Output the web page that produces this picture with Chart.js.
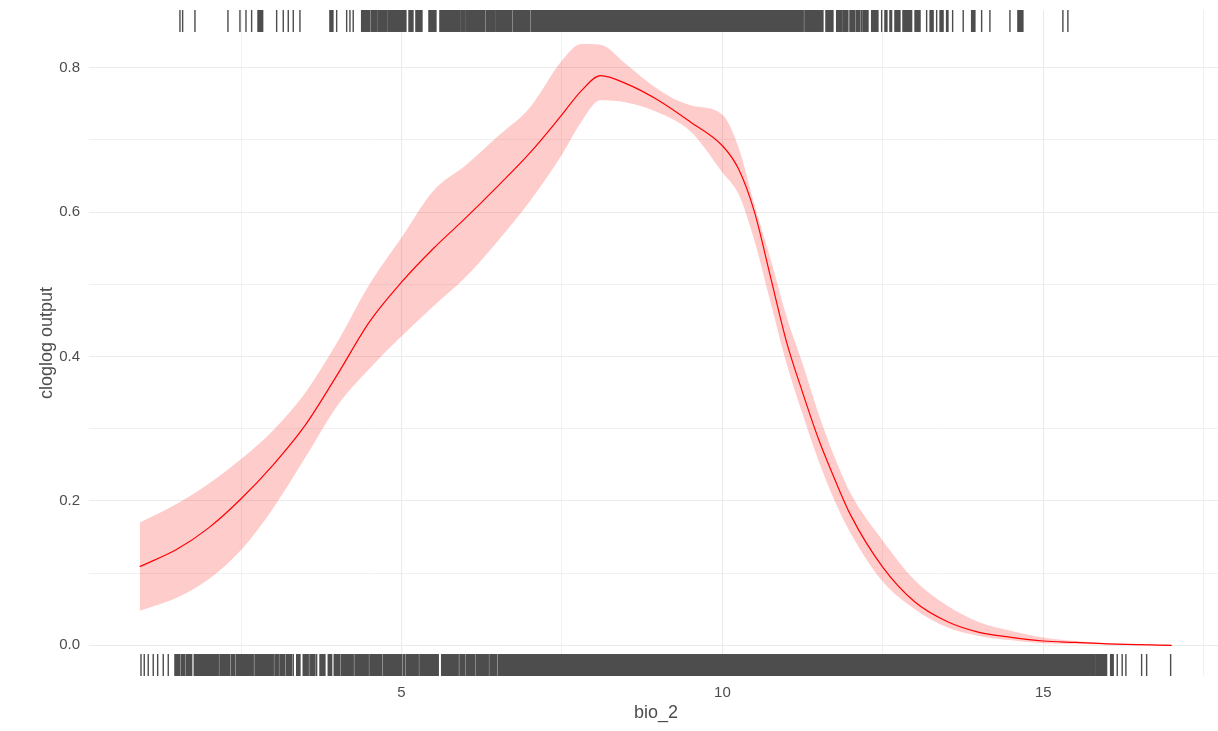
<!DOCTYPE html>
<html>
<head>
<meta charset="utf-8">
<script src="https://cdn.jsdelivr.net/npm/chart.js@4.4.1/dist/chart.umd.min.js"></script>
<style>
  html, body { margin: 0; padding: 0; background: #fff; overflow: hidden; }
  #wrap { width: 1230px; height: 731px; position: relative; }
</style>
</head>
<body>
<div id="wrap"><canvas id="respChart"></canvas></div>
<script>
// response curve of bio_2 (cloglog output)
const bioX = [0.92, 1.5, 2, 2.5, 3, 3.5, 4, 4.5, 5, 5.5, 6, 6.5, 7, 7.5, 7.8, 8.1, 8.5, 9, 9.5, 10,
  10.25, 10.5, 10.75, 11, 11.25, 11.5, 11.75, 12, 12.5, 13, 13.5, 14, 14.5, 15, 15.5, 16, 17];
const meanY = [0.109, 0.133, 0.163, 0.203, 0.25, 0.305, 0.375, 0.448, 0.503, 0.55, 0.592, 0.636, 0.682, 0.735, 0.768, 0.789, 0.778, 0.755, 0.725, 0.692,
  0.660, 0.60, 0.51, 0.42, 0.35, 0.285, 0.23, 0.18, 0.108, 0.06, 0.033, 0.018, 0.011, 0.006, 0.004, 0.002, 0.0];
const upperY = [0.170, 0.196, 0.224, 0.258, 0.298, 0.35, 0.42, 0.50, 0.565, 0.63, 0.665, 0.705, 0.745, 0.81, 0.833, 0.832, 0.805, 0.77, 0.748, 0.735,
  0.69, 0.61, 0.535, 0.455, 0.39, 0.32, 0.26, 0.21, 0.145, 0.09, 0.055, 0.032, 0.02, 0.011, 0.006, 0.003, 0.001];
const lowerY = [0.048, 0.066, 0.092, 0.132, 0.19, 0.26, 0.332, 0.383, 0.428, 0.47, 0.51, 0.56, 0.615, 0.68, 0.725, 0.755, 0.752, 0.738, 0.712, 0.655,
  0.625, 0.56, 0.475, 0.39, 0.32, 0.255, 0.2, 0.155, 0.088, 0.05, 0.025, 0.013, 0.007, 0.003, 0.002, 0.001, 0.0];

// rug: presence (top) and background (bottom) values; spans where ticks merge into a block
const topRug = [1.547, 1.589, 1.781, 2.295, 2.482, 2.576, 2.664, 3.054, 3.157, 3.235, 3.313, 3.417, 3.989,
  4.145, 4.196, 4.247, 12.169, 12.481, 13.182, 13.338, 13.587, 13.752, 14.039, 14.168, 14.480, 15.305, 15.383];
const topRugSpans = [[2.763, 2.836], [3.884, 3.931], [4.378, 4.508], [4.534, 4.612], [4.632, 4.768], [4.788, 5.068],
  [5.116, 5.178], [5.224, 5.318], [5.427, 5.536], [5.598, 5.910], [5.926, 5.988], [6.004, 6.300], [6.326, 6.455],
  [6.471, 6.716], [6.740, 7.001], [7.027, 11.259], [11.285, 11.566], [11.613, 11.722], [11.780, 11.857],
  [11.877, 11.955], [11.987, 12.065], [12.091, 12.143], [12.190, 12.268], [12.325, 12.423], [12.532, 12.563],
  [12.610, 12.636], [12.688, 12.766], [12.813, 12.948], [13.001, 13.079], [13.236, 13.283], [13.391, 13.438],
  [13.493, 13.514], [13.883, 13.934], [14.604, 14.682]];
const bottomRug = [0.940, 0.991, 1.053, 1.131, 1.200, 1.287, 1.365, 3.313, 3.677,
  16.152, 16.229, 16.287, 16.532, 16.610, 16.984];
const bottomRugSpans = [[1.469, 1.547], [1.574, 1.625], [1.652, 1.730], [1.770, 2.144], [2.170, 2.326], [2.353, 2.404],
  [2.431, 2.689], [2.716, 3.001], [3.027, 3.079], [3.105, 3.183], [3.210, 3.288], [3.366, 3.417], [3.468, 3.546],
  [3.573, 3.651], [3.729, 3.806], [3.858, 3.911], [3.951, 4.040], [4.067, 4.247], [4.274, 4.481], [4.507, 4.690],
  [4.715, 5.002], [5.027, 5.053], [5.079, 5.260], [5.286, 5.572], [5.625, 5.883], [5.910, 5.988], [6.014, 6.144],
  [6.170, 6.351], [6.377, 6.482], [6.507, 15.804], [15.819, 15.893], [15.909, 15.986], [16.049, 16.089]];

// axes
const xGrid = [2.5, 5, 7.5, 10, 12.5, 15, 17.5];
const xLabels = ["5", "10", "15"];
const yGrid = [0, 0.1, 0.2, 0.3, 0.4, 0.5, 0.6, 0.7, 0.8];
const yLabels = ["0.0", "0.2", "0.4", "0.6", "0.8"];

const RUG_LEN = 0.033;
const RUG_COLOR = "#4d4d4d";
const GRID = "#ebebeb";
const FONT = "'Liberation Sans', Arial, sans-serif";

const pts = ys => bioX.map((x, i) => ({ x: x, y: ys[i] }));

const rugPlugin = {
  id: "rug",
  afterDatasetsDraw(chart) {
    const { ctx, chartArea: a, scales: { x } } = chart;
    const len = a.height * RUG_LEN;
    ctx.save();
    ctx.fillStyle = RUG_COLOR;
    function draw(ticks, spans, y0) {
      ticks.forEach(v => {
        const px = x.getPixelForValue(v);
        ctx.fillRect(px - 0.7, y0, 1.4, len);
      });
      spans.forEach(s => {
        const p0 = x.getPixelForValue(s[0]);
        const p1 = x.getPixelForValue(s[1]);
        ctx.fillRect(p0 - 0.7, y0, p1 - p0 + 1.4, len);
      });
    }
    draw(topRug, topRugSpans, a.top);
    draw(bottomRug, bottomRugSpans, a.bottom - len);
    ctx.restore();
  }
};

const ctx = document.getElementById("respChart").getContext("2d");

new Chart(ctx, {
  type: "line",
  data: {
    datasets: [
      {
        data: pts(upperY),
        borderWidth: 0,
        pointRadius: 0,
        backgroundColor: "rgba(255, 0, 0, 0.2)",
        fill: "+1",
        cubicInterpolationMode: "monotone"
      },
      {
        data: pts(lowerY),
        borderWidth: 0,
        pointRadius: 0,
        fill: false,
        cubicInterpolationMode: "monotone"
      },
      {
        data: pts(meanY),
        borderColor: "#ff0000",
        borderWidth: 1.2,
        pointRadius: 0,
        fill: false,
        cubicInterpolationMode: "monotone"
      }
    ]
  },
  options: {
    responsive: true,
    maintainAspectRatio: false,
    animation: false,
    events: [],
    layout: { padding: { left: 0, top: 10, right: 7, bottom: 0 } },
    plugins: { legend: { display: false }, tooltip: { enabled: false } },
    scales: {
      x: {
        type: "linear",
        min: 0.13,
        max: 17.8,
        afterBuildTicks: s => { s.ticks = xGrid.map(v => ({ value: v })); },
        afterFit: s => { s.height = 55; s.paddingLeft = 0; s.paddingRight = 0; },
        grid: {
          color: GRID,
          lineWidth: c => (c.tick && c.tick.value % 5 === 0 ? 1.1 : 0.7),
          drawTicks: false
        },
        border: { display: false },
        ticks: {
          padding: 8,
          color: "#4d4d4d",
          font: { family: FONT, size: 15 },
          maxRotation: 0,
          autoSkip: false,
          callback: v => (xLabels.includes(String(v)) ? String(v) : "")
        },
        title: {
          display: true,
          text: "bio_2",
          color: "#4d4d4d",
          font: { family: FONT, size: 18 },
          padding: { top: 0, bottom: 7 }
        }
      },
      y: {
        type: "linear",
        min: -0.0425,
        max: 0.88,
        afterBuildTicks: s => { s.ticks = yGrid.map(v => ({ value: v })); },
        afterFit: s => { s.width = 89; s.paddingTop = 0; s.paddingBottom = 0; },
        grid: {
          color: GRID,
          lineWidth: c => (c.tick && Math.round(c.tick.value * 10) % 2 === 0 ? 1.1 : 0.7),
          drawTicks: false
        },
        border: { display: false },
        ticks: {
          padding: 9,
          color: "#4d4d4d",
          font: { family: FONT, size: 15 },
          autoSkip: false,
          callback: v => {
            const lab = v.toFixed(1);
            return yLabels.includes(lab) ? lab : "";
          }
        },
        title: {
          display: true,
          text: "cloglog output",
          color: "#4d4d4d",
          font: { family: FONT, size: 18 },
          padding: { top: 36, bottom: 0 }
        }
      }
    }
  },
  plugins: [rugPlugin]
});
</script>
</body>
</html>
